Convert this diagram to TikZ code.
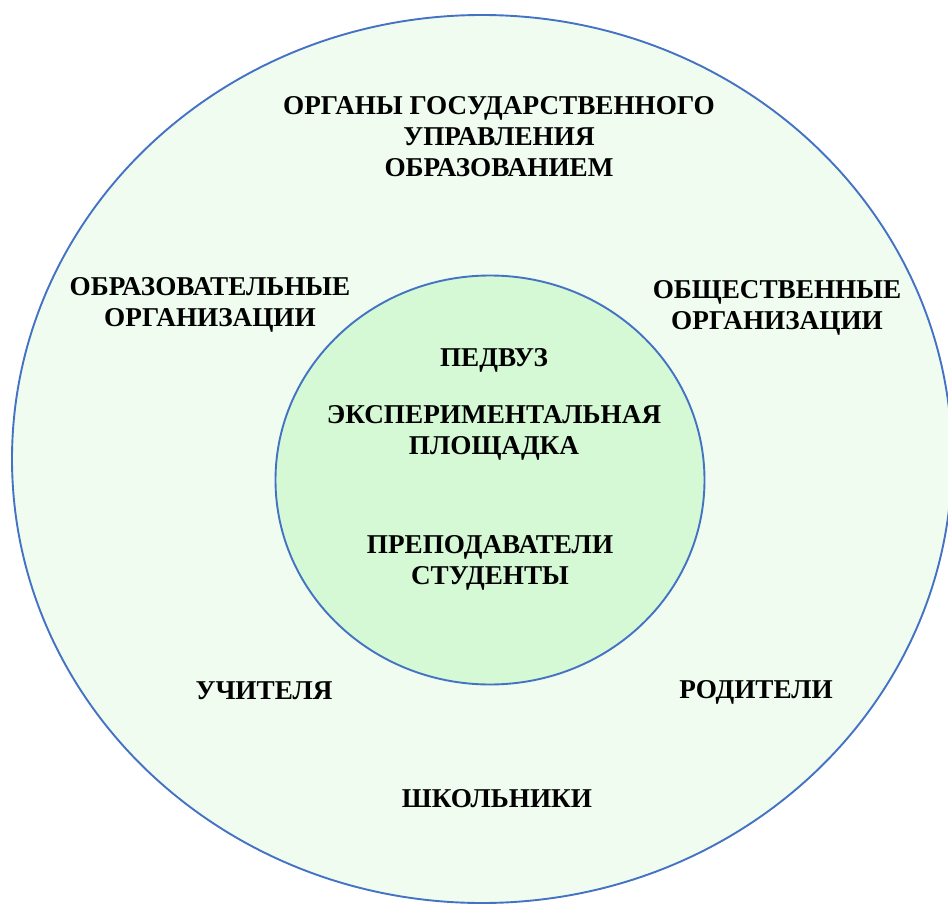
\documentclass[tikz,border=0pt]{standalone}
\usepackage{fontspec}
\setmainfont{Liberation Serif}
\usetikzlibrary{shapes.geometric}
\definecolor{ringblue}{HTML}{4472C4}
\definecolor{outerfill}{HTML}{EFFCEF}
\definecolor{innerfill}{HTML}{D5F8D5}

\begin{document}
\begin{tikzpicture}[x=1pt, y=-1pt,
        ring/.style = {draw=ringblue, line width=1.9pt, ellipse, inner sep=0pt},
        lbl/.style = {align=center, inner sep=0pt, font=\fontsize{27.2}{31}\selectfont\bfseries}]
        \useasboundingbox (0,0) rectangle (948,904);
        \node[ring, fill=outerfill, minimum width=940, minimum height=888] (outer) at (482,459) {};
        \node[ring, fill=innerfill, minimum width=429, minimum height=409] (inner) at (490,480) {};
        \node[lbl] (organy) at (499,137) {ОРГАНЫ ГОСУДАРСТВЕННОГО\\УПРАВЛЕНИЯ\\ОБРАЗОВАНИЕМ};
        \node[lbl] (obrorg) at (210,305) {ОБРАЗОВАТЕЛЬНЫЕ\\ОРГАНИЗАЦИИ};
        \node[lbl] (obshorg) at (777,308) {ОБЩЕСТВЕННЫЕ\\ОРГАНИЗАЦИИ};
        \node[lbl] (pedvuz) at (494,360) {ПЕДВУЗ};
        \node[lbl] (ploshch) at (494,433) {ЭКСПЕРИМЕНТАЛЬНАЯ\\ПЛОЩАДКА};
        \node[lbl] (prep) at (490,563) {ПРЕПОДАВАТЕЛИ\\СТУДЕНТЫ};
        \node[lbl] (uchit) at (264,691) {УЧИТЕЛЯ};
        \node[lbl] (rodit) at (756,692) {РОДИТЕЛИ};
        \node[lbl] (shkol) at (497,799) {ШКОЛЬНИКИ};
    \end{tikzpicture}
\end{document}
